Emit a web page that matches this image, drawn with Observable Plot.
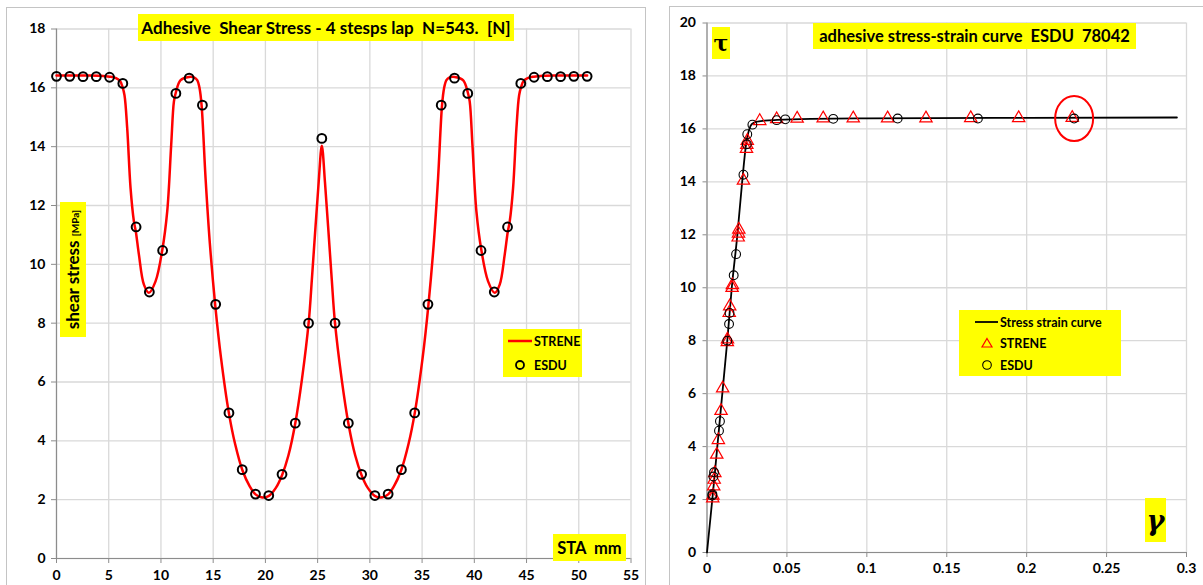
<!DOCTYPE html>
<html><head><meta charset="utf-8">
<script src="https://cdn.jsdelivr.net/npm/d3@7"></script>
<script src="https://cdn.jsdelivr.net/npm/@observablehq/plot@0.6"></script>
<style>
html,body{margin:0;padding:0;background:#fff;}
body{width:1203px;height:585px;overflow:hidden;position:relative;font-family:Lato,"Open Sans",sans-serif;}
.abs{position:absolute;}
.frame{position:absolute;border:1.5px solid #c4c4c4;box-sizing:border-box;}
.yb{position:absolute;background:#ffff00;font-weight:bold;color:#000;white-space:pre;display:flex;align-items:center;justify-content:center;box-sizing:border-box;}
.leg{position:absolute;background:#ffff00;font-weight:bold;font-size:12.5px;color:#000;}
.row{position:absolute;display:flex;align-items:center;white-space:pre;}
</style></head><body>
<div class="frame" style="left:6px;top:7px;width:640px;height:620px"></div>
<div class="frame" style="left:669px;top:6px;width:560px;height:620px"></div>
<div id="c1" class="abs" style="left:0;top:0"></div>
<div id="c2" class="abs" style="left:660px;top:0"></div>

<div class="yb" style="left:138px;top:14px;width:376px;height:27px;font-size:17px;">Adhesive  Shear Stress - 4 stesps lap  N=543.  [N]</div>
<div class="yb" style="left:60px;top:202px;width:26px;height:135px;">
  <div style="transform:rotate(-90deg);white-space:pre;font-size:17px;">shear stress <span style="font-size:10px">[MPa]</span></div>
</div>
<div class="yb" style="left:553px;top:534px;width:73px;height:27px;font-size:16.5px;">STA  mm</div>
<div class="leg" style="left:503px;top:329px;width:79px;height:48px;">
  <div class="row" style="left:5px;top:5px;height:14px;"><svg width="25" height="14"><line x1="0" y1="7" x2="24" y2="7" stroke="#ff0000" stroke-width="2.5"/></svg><span style="margin-left:1px">STRENE</span></div>
  <div class="row" style="left:5px;top:29px;height:14px;"><svg width="25" height="14"><circle cx="12" cy="7" r="4" fill="none" stroke="#000" stroke-width="1.8"/></svg><span style="margin-left:1px">ESDU</span></div>
</div>

<div class="yb" style="left:813px;top:23px;width:323px;height:26px;font-size:16.5px;">adhesive stress-strain curve  ESDU  78042</div>
<div class="yb" style="left:712px;top:27px;width:18px;height:32px;font-size:22px;font-family:'DejaVu Serif',serif;">τ</div>
<div class="yb" style="left:1145px;top:498px;width:21px;height:44px;font-size:27px;font-family:'DejaVu Serif',serif;font-style:italic;">γ</div>
<div class="leg" style="left:959px;top:310px;width:162px;height:66px;">
  <div class="row" style="left:15px;top:5px;height:14px;"><svg width="26" height="14"><line x1="1" y1="7" x2="24" y2="7" stroke="#000" stroke-width="1.8"/></svg><span>Stress strain curve</span></div>
  <div class="row" style="left:15px;top:26px;height:14px;"><svg width="26" height="14"><path d="M13,2.5 L18,11 L8,11 Z" fill="none" stroke="#ff0000" stroke-width="1.2"/></svg><span>STRENE</span></div>
  <div class="row" style="left:15px;top:48px;height:14px;"><svg width="26" height="14"><circle cx="13" cy="7" r="4.3" fill="none" stroke="#000" stroke-width="1.1"/></svg><span>ESDU</span></div>
</div>

<script>
// ---------- Left chart data ----------
const staTicks = [0, 5, 10, 15, 20, 25, 30, 35, 40, 45, 50, 55];
const stressTicks = [0, 2, 4, 6, 8, 10, 12, 14, 16, 18];

// ESDU points (STA mm, shear stress MPa)
const esduSta = [0, 1.27, 2.54, 3.81, 5.08, 6.35, 7.62, 8.89, 10.16, 11.43, 12.7, 13.97, 15.24, 16.51, 17.78, 19.05, 20.32, 21.59, 22.86, 24.13, 25.4,
  26.67, 27.94, 29.21, 30.48, 31.75, 33.02, 34.29, 35.56, 36.83, 38.1, 39.37, 40.64, 41.91, 43.18, 44.45, 45.72, 46.99, 48.26, 49.53, 50.8];
const esduStress = [16.39, 16.39, 16.38, 16.38, 16.36, 16.15, 11.27, 9.06, 10.47, 15.81, 16.33, 15.41, 8.64, 4.95, 3.02, 2.19, 2.14, 2.86, 4.6, 8.0, 14.28,
  8.0, 4.6, 2.86, 2.14, 2.19, 3.02, 4.95, 8.64, 15.41, 16.33, 15.81, 10.47, 9.06, 11.27, 16.15, 16.36, 16.38, 16.38, 16.39, 16.39];

// STRENE curve (STA mm, shear stress MPa)
const streneSta = [0, 1.5, 3, 4.2, 5.1, 5.7, 6.1, 6.3, 6.51, 6.77, 7.09, 7.41, 7.6, 7.89, 8.37, 8.85, 9.48, 10.12, 10.6, 10.98, 11.24, 11.43, 11.88, 12.68, 13.2, 13.47, 13.7, 13.89, 14.27, 14.69, 15.2, 15.75, 16.5, 17.1, 17.8, 18.5, 19.05, 19.6, 20.3, 21.0, 21.6, 22.2, 22.86, 23.5, 24.15, 24.45, 24.8, 25.1, 25.4,
  25.7, 26.0, 26.35, 26.65, 27.3, 27.94, 28.6, 29.2, 29.8, 30.5, 31.2, 31.75, 32.3, 33.0, 33.7, 34.3, 35.05, 35.6, 36.11, 36.53, 36.91, 37.1, 37.33, 37.6, 38.12, 38.92, 39.37, 39.56, 39.82, 40.2, 40.68, 41.32, 41.95, 42.43, 42.91, 43.2, 43.39, 43.71, 44.03, 44.29, 44.5, 44.7, 45.1, 45.7, 46.6, 47.8, 49.3, 50.8];
const streneStress = [16.42, 16.42, 16.42, 16.41, 16.38, 16.33, 16.22, 16.05, 15.75, 14.62, 12.59, 11.46, 11.1, 10.33, 9.31, 9.03, 9.42, 10.47, 11.8, 14.06, 15.53, 15.85, 16.26, 16.37, 16.35, 16.26, 15.98, 15.41, 12.93, 10.67, 8.6, 6.82, 4.95, 3.89, 3.0, 2.45, 2.18, 2.08, 2.12, 2.4, 2.84, 3.5, 4.6, 6.1, 8.05, 9.5, 11.3, 12.8, 14.03,
  12.8, 11.3, 9.5, 8.05, 6.1, 4.6, 3.5, 2.84, 2.4, 2.12, 2.08, 2.18, 2.45, 3.0, 3.89, 4.95, 6.82, 8.6, 10.67, 12.93, 15.41, 15.98, 16.26, 16.35, 16.37, 16.26, 15.85, 15.53, 14.06, 11.8, 10.47, 9.42, 9.03, 9.31, 10.33, 11.1, 11.46, 12.59, 14.62, 15.75, 16.05, 16.22, 16.33, 16.38, 16.41, 16.42, 16.42, 16.42];

// ---------- Right chart data ----------
const gammaTicks = [0, 0.05, 0.1, 0.15, 0.2, 0.25, 0.3];
const tauTicks = [0, 2, 4, 6, 8, 10, 12, 14, 16, 18, 20];

// Stress strain curve
const curveGamma = [0, 0.0033, 0.0127, 0.0155, 0.019, 0.022, 0.0244, 0.0265, 0.028, 0.031, 0.036, 0.044, 0.065, 0.1, 0.2, 0.294];
const curveTau = [0, 2.0, 8.0, 10.0, 12.0, 14.0, 15.4, 16.0, 16.18, 16.27, 16.31, 16.34, 16.38, 16.4, 16.42, 16.43];

// STRENE points
const streneGamma = [0.0036, 0.0037, 0.0042, 0.0045, 0.0049, 0.0061, 0.0071, 0.0088, 0.0098, 0.0127, 0.0128, 0.0139, 0.0142, 0.0157, 0.0159, 0.0195, 0.0197, 0.0199, 0.0228, 0.0247, 0.0249, 0.0252, 0.033, 0.0436, 0.0564, 0.0727, 0.0915, 0.113, 0.137, 0.165, 0.195, 0.2285];
const streneTau = [2.05, 2.15, 2.5, 2.75, 3.0, 3.7, 4.25, 5.35, 6.2, 7.95, 8.05, 9.05, 9.3, 10.0, 10.1, 11.9, 12.05, 12.2, 14.05, 15.25, 15.4, 15.55, 16.3, 16.37, 16.39, 16.4, 16.4, 16.4, 16.4, 16.41, 16.41, 16.42];

// ESDU points
const esduGamma = [0.0033, 0.0034, 0.004, 0.0044, 0.0075, 0.0081, 0.0127, 0.0138, 0.0141, 0.0167, 0.0182, 0.0228, 0.0249, 0.0252, 0.0284, 0.0436, 0.049, 0.079, 0.1193, 0.1695, 0.2297];
const esduTau = [2.15, 2.2, 2.87, 3.03, 4.6, 4.96, 8.0, 8.63, 9.05, 10.47, 11.27, 14.27, 15.42, 15.8, 16.16, 16.33, 16.36, 16.38, 16.39, 16.39, 16.39];

const idx = a => a.map((_, i) => i);
const gridStyle = {stroke: "#d9d9d9", strokeOpacity: 1, strokeWidth: 1.3};
const axisColor = "#8c8c8c";
const fontStyle = {fontFamily: "Lato, 'Open Sans', sans-serif", fontSize: "14px", fontWeight: "bold", color: "#000", background: "transparent", overflow: "visible"};

const left = Plot.plot({
  width: 650, height: 585,
  marginLeft: 56, marginRight: 19.5, marginTop: 28.5, marginBottom: 27,
  x: {domain: [0, 55]},
  y: {domain: [0, 18]},
  style: fontStyle,
  marks: [
    Plot.gridX(staTicks, gridStyle),
    Plot.gridY(stressTicks, gridStyle),
    Plot.ruleX([0], {stroke: axisColor, strokeWidth: 1.2}),
    Plot.ruleY([0], {stroke: axisColor, strokeWidth: 1.2}),
    Plot.axisX(staTicks, {tickSize: 5, tickPadding: 7, stroke: axisColor, fill: "#000", label: null, tickFormat: d => String(d)}),
    Plot.axisY(stressTicks, {tickSize: 5, tickPadding: 6, stroke: axisColor, fill: "#000", label: null, tickFormat: d => String(d)}),
    Plot.line(idx(streneSta), {x: i => streneSta[i], y: i => streneStress[i], stroke: "#ff0000", strokeWidth: 2.5, curve: "catmull-rom"}),
    Plot.dot(idx(esduSta), {x: i => esduSta[i], y: i => esduStress[i], r: 4.4, stroke: "#000", strokeWidth: 2, fill: "none"})
  ]
});
document.getElementById("c1").appendChild(left);

// ellipse symbol for highlighting the last ESDU point
const ellipseSymbol = {
  draw(ctx, size) {
    const rx = 19, ry = 22.5, k = 0.5523;
    ctx.moveTo(rx, 0);
    ctx.bezierCurveTo(rx, ry * k, rx * k, ry, 0, ry);
    ctx.bezierCurveTo(-rx * k, ry, -rx, ry * k, -rx, 0);
    ctx.bezierCurveTo(-rx, -ry * k, -rx * k, -ry, 0, -ry);
    ctx.bezierCurveTo(rx * k, -ry, rx, -ry * k, rx, 0);
    ctx.closePath();
  }
};
const last = esduGamma.length - 1;

const right = Plot.plot({
  width: 543, height: 585,
  marginLeft: 46.5, marginRight: 17, marginTop: 22.5, marginBottom: 33,
  x: {domain: [0, 0.3]},
  y: {domain: [0, 20]},
  style: fontStyle,
  marks: [
    Plot.gridX(gammaTicks, gridStyle),
    Plot.gridY(tauTicks, gridStyle),
    Plot.ruleX([0], {stroke: axisColor, strokeWidth: 1.2}),
    Plot.ruleY([0], {stroke: axisColor, strokeWidth: 1.2}),
    Plot.axisX(gammaTicks, {tickSize: 5, tickPadding: 6, stroke: axisColor, fill: "#000", label: null, tickFormat: d => String(d)}),
    Plot.axisY(tauTicks, {tickSize: 4, tickPadding: 7, stroke: axisColor, fill: "#000", label: null, tickFormat: d => String(d)}),
    Plot.line(idx(curveGamma), {x: i => curveGamma[i], y: i => curveTau[i], stroke: "#000", strokeWidth: 1.8, curve: "monotone-x"}),
    Plot.dot(idx(streneGamma), {x: i => streneGamma[i], y: i => streneTau[i], symbol: "triangle", r: 4.6, stroke: "#ff0000", strokeWidth: 1.2, fill: "none"}),
    Plot.dot(idx(esduGamma), {x: i => esduGamma[i], y: i => esduTau[i], r: 4.4, stroke: "#000", strokeWidth: 1.1, fill: "none"}),
    Plot.dot([last], {x: i => esduGamma[i], y: i => esduTau[i], symbol: ellipseSymbol, r: 10, stroke: "#ff0000", strokeWidth: 2, fill: "none"})
  ]
});
document.getElementById("c2").appendChild(right);
</script>
</body></html>
